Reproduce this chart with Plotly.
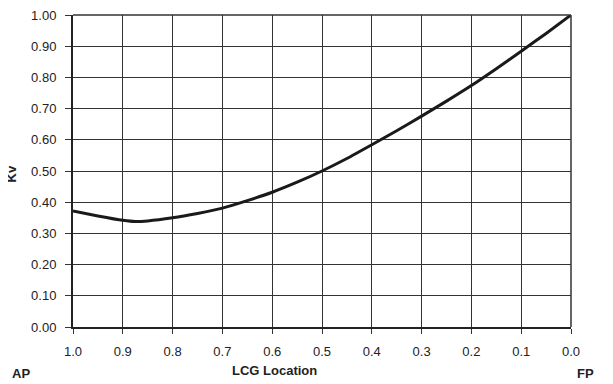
import plotly.graph_objects as go

lcg = [1.0, 0.95, 0.9, 0.875, 0.85, 0.8, 0.75, 0.7, 0.65, 0.6, 0.55, 0.5,
       0.45, 0.4, 0.35, 0.3, 0.25, 0.2, 0.15, 0.1, 0.05, 0.0]
kv = [0.372, 0.356, 0.342, 0.338, 0.340, 0.350, 0.364, 0.381, 0.405, 0.432, 0.464, 0.500,
      0.540, 0.584, 0.629, 0.676, 0.724, 0.774, 0.828, 0.884, 0.941, 1.0]

x_ticks = [1.0, 0.9, 0.8, 0.7, 0.6, 0.5, 0.4, 0.3, 0.2, 0.1, 0.0]
x_labels = ["1.0", "0.9", "0.8", "0.7", "0.6", "0.5", "0.4", "0.3", "0.2", "0.1", "0.0"]
y_ticks = [0.0, 0.1, 0.2, 0.3, 0.4, 0.5, 0.6, 0.7, 0.8, 0.9, 1.0]
y_labels = ["0.00", "0.10", "0.20", "0.30", "0.40", "0.50", "0.60", "0.70", "0.80", "0.90", "1.00"]

# page has an 8px body margin; work in page coordinates and subtract it
OFF = 8
W, H = 613 - OFF, 384 - OFF
ml, mt = 73 - OFF, 15 - OFF
mr = W - (571 - OFF)
mb = H - (327 - OFF)
pw = W - ml - mr
ph = H - mt - mb


def px(xp):
    return (xp - OFF - ml) / pw


def py(yp):
    return (H - mb - (yp - OFF)) / ph


fig = go.Figure()
fig.add_trace(go.Scatter(
    x=lcg, y=kv, mode="lines",
    line=dict(color="#1a1a1a", width=3, shape="spline", smoothing=0.5),
    hoverinfo="skip", showlegend=False,
))

font_family = "Liberation Sans, Arial, sans-serif"
tc = "#222"

fig.update_layout(
    width=W, height=H,
    margin=dict(l=ml, r=mr, t=mt, b=mb),
    paper_bgcolor="white", plot_bgcolor="white",
    font=dict(family=font_family, size=13, color=tc),
    xaxis=dict(
        range=[1.0, 0.0], tickvals=x_ticks, ticktext=x_labels,
        showgrid=True, gridcolor="#333", gridwidth=1,
        showline=True, linecolor="#222", linewidth=2, mirror=False,
        ticks="outside", ticklen=5, tickcolor="#333", tickwidth=1,
        ticklabelstandoff=6, ticklabeloverflow="allow",
        tickfont=dict(size=13, color=tc), zeroline=False, automargin=False,
    ),
    yaxis=dict(
        range=[0.0, 1.0], tickvals=y_ticks, ticktext=y_labels,
        showgrid=True, gridcolor="#333", gridwidth=1,
        showline=True, linecolor="#222", linewidth=2,
        ticks="outside", ticklen=6, tickcolor="#333", tickwidth=1,
        ticklabelstandoff=6, ticklabeloverflow="allow",
        tickfont=dict(size=13, color=tc), zeroline=False, automargin=False,
    ),
    shapes=[
        dict(type="line", xref="paper", yref="paper", x0=0, x1=1, y0=1, y1=1,
             layer="above", line=dict(color="#333", width=1.5)),
        dict(type="line", xref="paper", yref="paper", x0=1, x1=1, y0=0, y1=1,
             layer="above", line=dict(color="#333", width=1.5)),
    ],
    annotations=[
        dict(text="<b>LCG Location</b>", xref="paper", yref="paper",
             x=px(274), y=py(370), xanchor="center", yanchor="middle",
             showarrow=False, font=dict(size=13, color=tc)),
        dict(text="<b>AP</b>", xref="paper", yref="paper",
             x=px(21), y=py(373), xanchor="center", yanchor="middle",
             showarrow=False, font=dict(size=13, color=tc)),
        dict(text="<b>FP</b>", xref="paper", yref="paper",
             x=px(585), y=py(373), xanchor="center", yanchor="middle",
             showarrow=False, font=dict(size=13, color=tc)),
        dict(text="<b>Kv</b>", xref="paper", yref="paper",
             x=px(20), y=py(174), xanchor="right", yanchor="middle",
             textangle=-90, showarrow=False, font=dict(size=13, color=tc)),
    ],
)

fig.write_html("out.html")
